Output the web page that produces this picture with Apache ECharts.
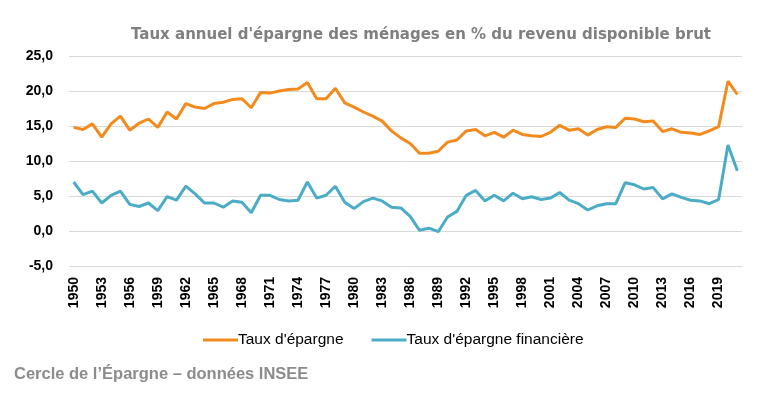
<!DOCTYPE html>
<html><head><meta charset="utf-8">
<script src="https://cdn.jsdelivr.net/npm/echarts@6/dist/echarts.min.js"></script>
<style>html,body{margin:0;padding:0;background:#fff}#c{width:767px;height:396px}</style>
</head><body><div id="c"></div>
<script>
const years = [];
for (let y = 1950; y <= 2021; y++) years.push(String(y));
const tauxEpargne = [14.8,14.5,15.3,13.4,15.3,16.4,14.4,15.4,16.0,14.8,17.0,16.0,18.2,17.7,17.5,18.2,18.4,18.8,18.9,17.6,19.8,19.7,20.0,20.2,20.3,21.2,18.9,18.9,20.4,18.3,17.7,17.0,16.4,15.7,14.3,13.3,12.5,11.1,11.1,11.4,12.7,13.0,14.3,14.5,13.6,14.1,13.4,14.4,13.8,13.6,13.5,14.1,15.1,14.4,14.6,13.7,14.5,14.9,14.8,16.1,16.0,15.6,15.7,14.2,14.6,14.1,14.0,13.8,14.3,14.9,21.4,19.5];
const tauxFinanciere = [7.0,5.2,5.7,4.0,5.1,5.7,3.8,3.5,4.0,2.9,4.9,4.4,6.4,5.3,4.0,4.0,3.4,4.3,4.1,2.6,5.1,5.1,4.5,4.3,4.4,7.0,4.7,5.1,6.4,4.1,3.2,4.2,4.7,4.3,3.4,3.3,2.1,0.1,0.4,-0.1,2.0,2.8,5.1,5.8,4.3,5.1,4.3,5.4,4.6,4.9,4.5,4.7,5.5,4.4,3.9,3.0,3.6,3.9,3.9,6.9,6.6,6.0,6.2,4.6,5.3,4.8,4.4,4.3,3.9,4.5,12.3,8.6];
const yTicks = {min:-5, max:25, interval:5};
const chart = echarts.init(document.getElementById('c'), null, {renderer:'canvas'});
chart.setOption({
  animation:false,
  title:{text:"Taux annuel d'épargne des ménages en % du revenu disponible brut", left:416, textAlign:'center', top:23,
    textStyle:{fontFamily:'DejaVu Sans', fontWeight:'bold', fontSize:15, color:'#7f7f7f'}},
  grid:{left:69, right:25, top:56, bottom:130},
  legend:{top:327, left:198, itemWidth:35, itemHeight:3, itemGap:28,
    icon:'rect',
    textStyle:{fontFamily:'Liberation Sans', fontSize:15.5, color:'#000', padding:[0,0,0,-5]},
    data:["Taux d'épargne","Taux d'épargne financière"]},
  graphic:[{type:'text', left:14, top:366, style:{text:"Cercle de l’Épargne – données INSEE", fontFamily:'Liberation Sans', fontWeight:'bold', fontSize:16.5, fill:'#8c8c8c'}}],
  xAxis:{type:'category', data:years, boundaryGap:true,
    axisLine:{show:false}, axisTick:{show:false},
    axisLabel:{interval:2, rotate:90, fontFamily:'Liberation Sans', fontWeight:'bold', fontSize:14, color:'#000', margin:11}},
  yAxis:{type:'value', min:yTicks.min, max:yTicks.max, interval:yTicks.interval,
    axisLine:{show:false}, axisTick:{show:false},
    splitLine:{lineStyle:{color:'#d9d9d9', width:1}},
    axisLabel:{formatter:v=>v.toFixed(1).replace('.',','), fontFamily:'Liberation Sans', fontWeight:'bold', fontSize:14, color:'#000', margin:16}},
  series:[
    {name:"Taux d'épargne", type:'line', data:tauxEpargne, symbol:'none', lineStyle:{width:3, color:'#F28A1E'}, itemStyle:{color:'#F28A1E'}},
    {name:"Taux d'épargne financière", type:'line', data:tauxFinanciere, symbol:'none', lineStyle:{width:3, color:'#4BACC6'}, itemStyle:{color:'#4BACC6'}}
  ]
});
</script></body></html>
